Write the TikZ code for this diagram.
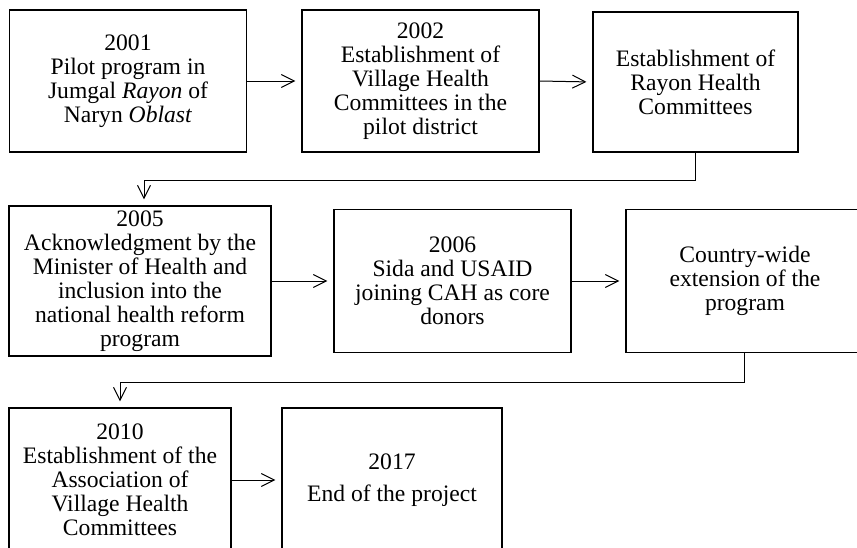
\documentclass[tikz,border=0pt]{standalone}
\usepackage{fontspec}
\setmainfont{Liberation Serif}
\usetikzlibrary{arrows.meta}

\begin{document}
\begin{tikzpicture}[x=0.5pt,y=0.5pt,yscale=-1,xscale=1,
  box/.style={draw, line width=0.55pt, align=center, inner sep=0pt,
    font=\fontsize{11.8}{12}\selectfont},
  flow/.style={line width=0.5pt, shorten >=3pt,
    -{Straight Barb[length=6.5pt,width=6.5pt,line width=0.5pt]}}]
%set diagram left start at 0, and has height of 547
\useasboundingbox (0,0) rectangle (857,547);

% Text Node
\node[box, minimum width=118.5pt, minimum height=71pt] (y2001) at (128,81)
  {2001\\Pilot program in\\Jumgal \textit{Rayon} of\\Naryn \textit{Oblast}};
% Text Node
\node[box, minimum width=118.5pt, minimum height=71pt] (y2002) at (420.5,81)
  {2002\\Establishment of\\Village Health\\Committees in the\\pilot district};
% Text Node
\node[box, minimum width=102.5pt, minimum height=70pt] (rayon) at (695.5,82)
  {Establishment of\\Rayon Health\\Committees};
% Text Node
\node[box, minimum width=131pt, minimum height=75pt] (y2005) at (140,281)
  {2005\\Acknowledgment by the\\Minister of Health and\\inclusion into the\\national health reform\\program};
% Text Node
\node[box, minimum width=118.5pt, minimum height=71.5pt] (y2006) at (452.5,281)
  {2006\\Sida and USAID\\joining CAH as core\\donors};
% Text Node
\node[box, minimum width=119pt, minimum height=71.5pt] (wide) at (745,281)
  {Country-wide\\extension of the\\program};
% Text Node
\node[box, minimum width=111pt, minimum height=72pt] (y2010) at (120,480)
  {2010\\Establishment of the\\Association of\\Village Health\\Committees};
% Text Node
\node[box, minimum width=110pt, minimum height=72pt] (y2017) at (392,480)
  {2017\\[4pt]End of the project};

%Straight Lines
\draw[flow] (y2001.east) -- (y2002.west);
\draw[flow] (y2002.east) -- (rayon.west);
\draw[flow] (y2005.east) -- (y2006.west);
\draw[flow] (y2006.east) -- (wide.west);
\draw[flow] (y2010.east) -- (y2017.west);

%Elbow Lines
\draw[flow] (rayon.south) -- ++(0,28) -| ([xshift=2pt]y2005.north);
\draw[flow] ([xshift=-0.5pt]wide.south) -- ++(0,29) -| (y2010.north);

\end{tikzpicture}
\end{document}
